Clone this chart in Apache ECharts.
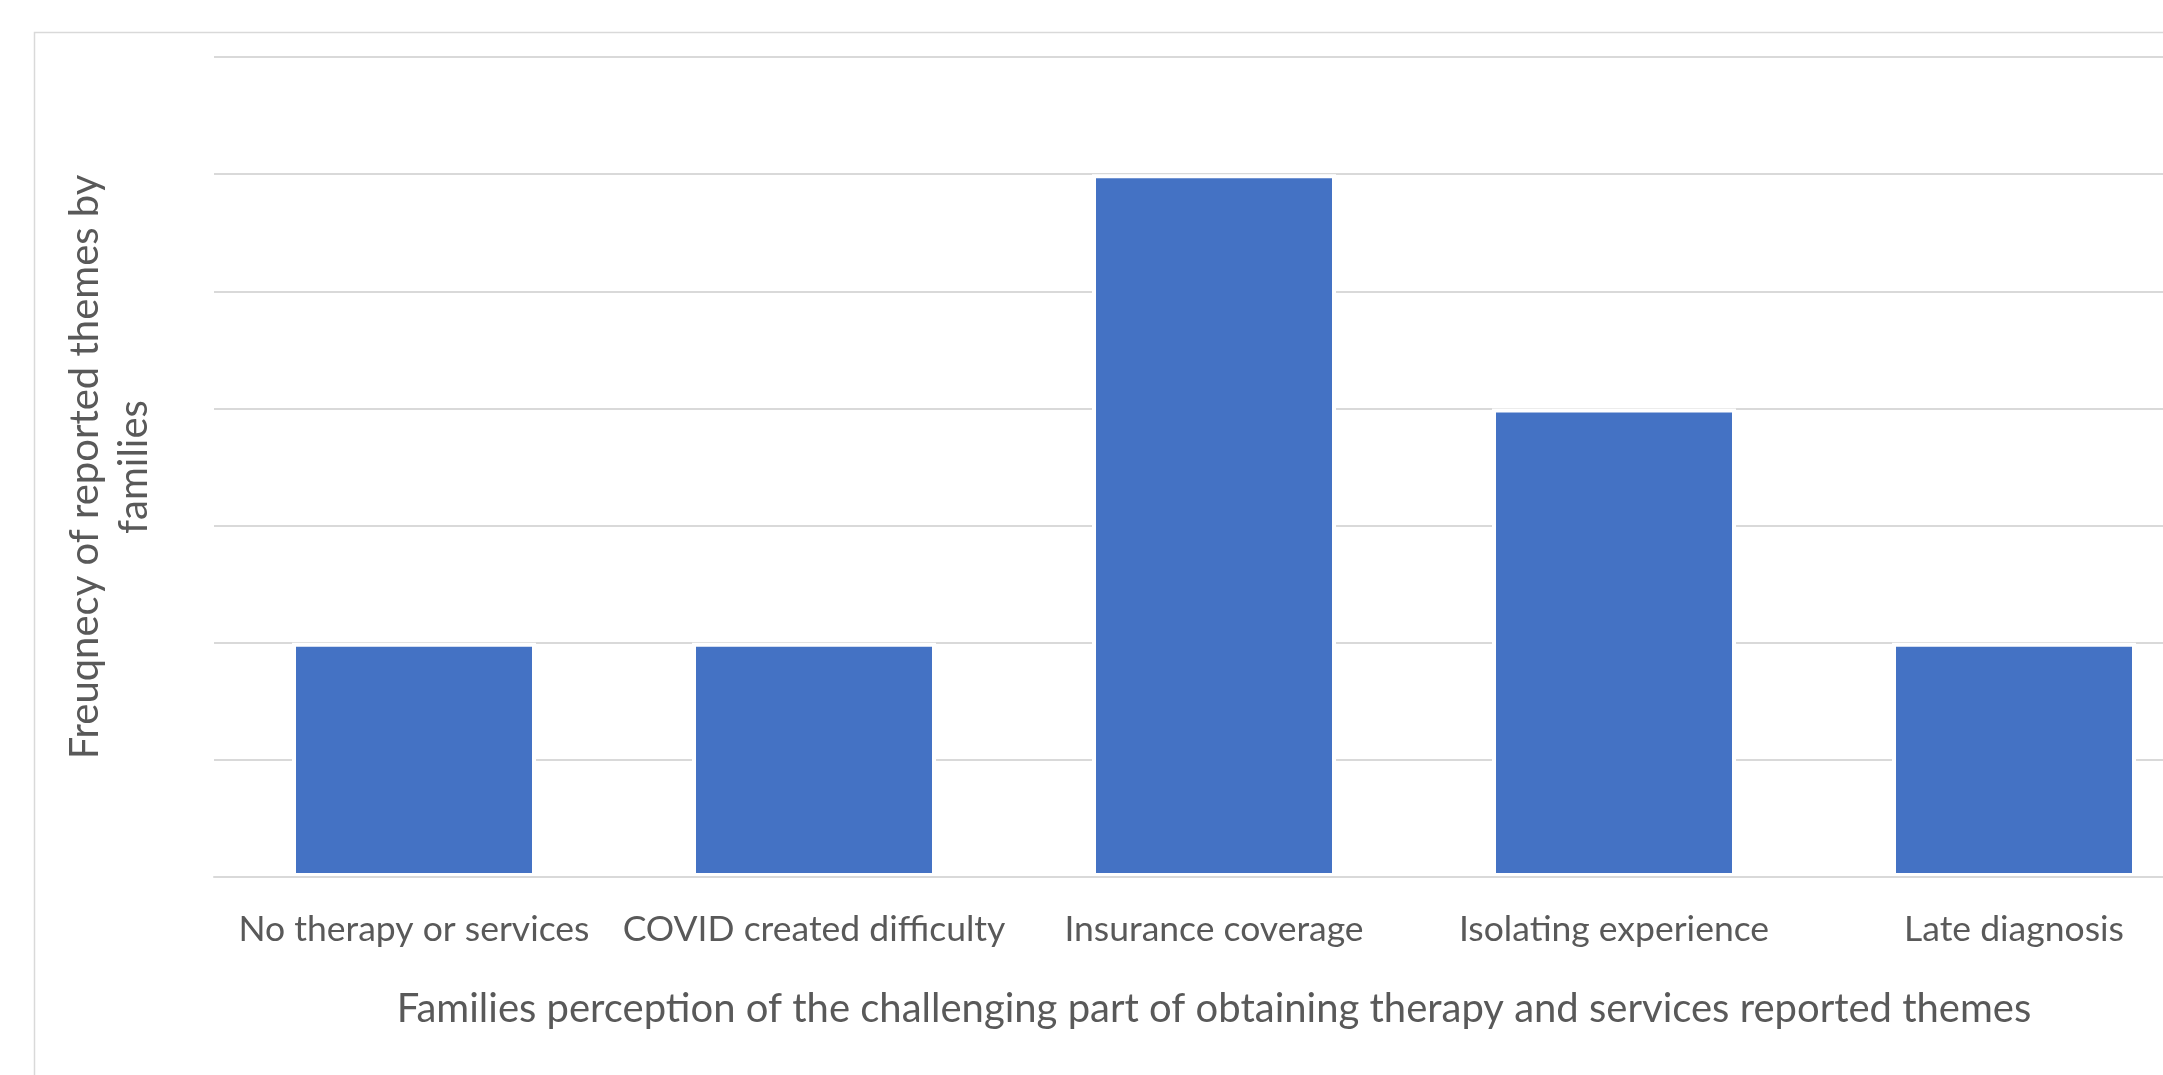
<!DOCTYPE html>
<html>
<head>
<meta charset="utf-8">
<style>
  html, body { margin: 0; padding: 0; background: #ffffff; }
  #chart { width: 2163px; height: 1075px; }
</style>
<script src="https://cdn.jsdelivr.net/npm/echarts@6/dist/echarts.min.js"></script>
</head>
<body>
<div id="chart"></div>
<script>
// Reported themes and how many families mentioned each
const categories = [
  'No therapy or services',
  'COVID created difficulty',
  'Insurance coverage',
  'Isolating experience',
  'Late diagnosis'
];
const frequencies = [2, 2, 6, 4, 2];
const yMin = 0;
const yMax = 7;
const yStep = 1;

const xTitle = 'Families perception of the challenging part of obtaining therapy and services reported themes';
const yTitle = 'Freuqnecy of reported themes by\nfamilies';

const textColor = '#595959';
const gridColor = '#d9d9d9';
const fontFamily = 'Lato, "Liberation Sans", sans-serif';

const chart = echarts.init(document.getElementById('chart'), null, { renderer: 'canvas' });

chart.setOption({
  animation: false,
  backgroundColor: '#ffffff',
  graphic: [{
    type: 'rect',
    left: 32,
    top: 30,
    shape: { width: 2300, height: 1200 },
    style: { fill: 'none', stroke: gridColor, lineWidth: 1.5 },
    silent: true,
    z: -1
  }],
  // the plot runs past the right edge of the page
  grid: { left: 214, right: -51, top: 57, bottom: 198, outerBoundsMode: 'none', containLabel: false },
  xAxis: {
    type: 'category',
    data: categories,
    z: 5,
    axisTick: { show: false },
    axisLine: { lineStyle: { color: gridColor, width: 2 } },
    axisLabel: { color: textColor, fontSize: 35.5, fontFamily: fontFamily, margin: 35, interval: 0 },
    name: xTitle,
    nameLocation: 'middle',
    nameGap: 112,
    nameTextStyle: { color: textColor, fontSize: 40, fontFamily: fontFamily }
  },
  yAxis: {
    type: 'value',
    min: yMin,
    max: yMax,
    interval: yStep,
    z: 0,
    axisLine: { show: false },
    axisTick: { show: false },
    axisLabel: { show: false },
    splitLine: { lineStyle: { color: gridColor, width: 2 } },
    name: yTitle,
    nameLocation: 'middle',
    nameGap: 55,
    nameTextStyle: { color: textColor, fontSize: 40, fontFamily: fontFamily, lineHeight: 49 }
  },
  series: [{
    type: 'bar',
    data: frequencies,
    barWidth: 244,
    itemStyle: { color: '#4472C4', borderColor: '#ffffff', borderWidth: 4 }
  }]
});
</script>
</body>
</html>
